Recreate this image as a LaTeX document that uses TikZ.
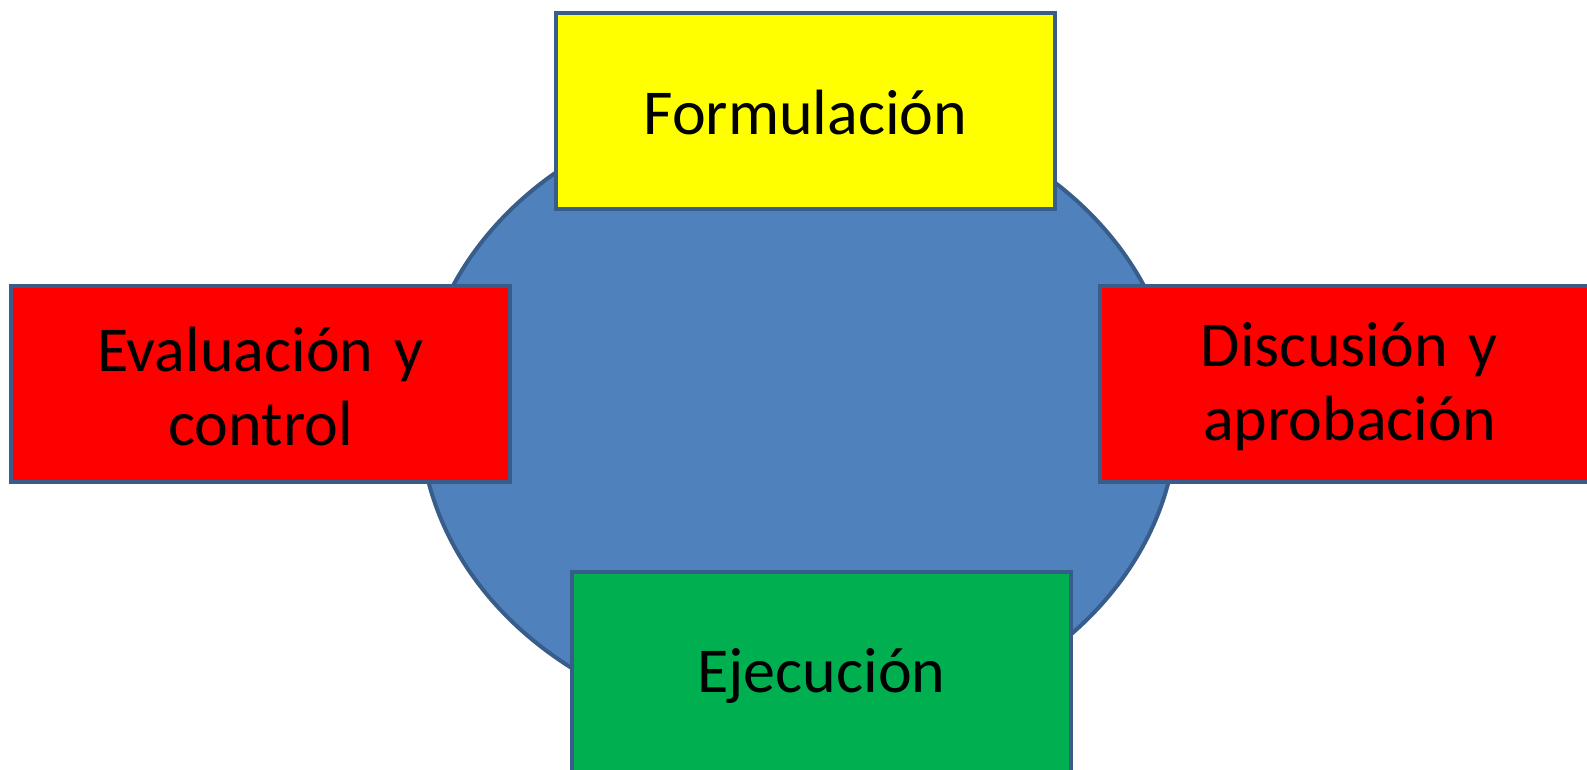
\documentclass[tikz,border=0pt]{standalone}
\usepackage{fontspec}
\setmainfont{Carlito}
\usetikzlibrary{shapes.geometric}
\definecolor{borderblue}{HTML}{385D8A}
\definecolor{ellfill}{HTML}{4F81BD}
\definecolor{boxyellow}{HTML}{FFFF00}
\definecolor{boxred}{HTML}{FF0000}
\definecolor{boxgreen}{HTML}{00B050}
\tikzset{
  phasebox/.style={draw=borderblue, line width=4pt, rectangle, minimum width=499pt, minimum height=196pt,
    inner sep=0pt},
  phasetext/.style={inner sep=0pt, align=center, text width=480pt, font=\fontsize{64}{74.5}\selectfont},
}
\begin{document}
\begin{tikzpicture}[x=1pt,y=-1pt]
\useasboundingbox (0,0) rectangle (1587,769);
\clip (0,0) rectangle (1587,769);
\node[ellipse, draw=borderblue, fill=ellfill, line width=4pt, minimum width=757pt, minimum height=632pt, inner sep=0pt] (ell) at (798.5,415) {};
\node[phasebox, fill=boxyellow] (form) at (805.5,111) {};
\node[phasetext] (formt) at ([yshift=-1.5pt]form.center) {Formulación};
\node[phasebox, fill=boxred] (eval) at (260.5,383.5) {};
\node[phasetext] (evalt) at ([yshift=-3pt]eval.center) {Evaluación y\\control};
\node[phasebox, fill=boxred] (disc) at (1349.5,383.5) {};
\node[phasetext] (disct) at ([yshift=-3pt]disc.center) {Discusión y\\aprobación};
\node[phasebox, fill=boxgreen, minimum height=208pt] (ejec) at (821.5,676) {};
\node[phasetext] (eject) at (ejec.center) {Ejecución};
\end{tikzpicture}
\end{document}
